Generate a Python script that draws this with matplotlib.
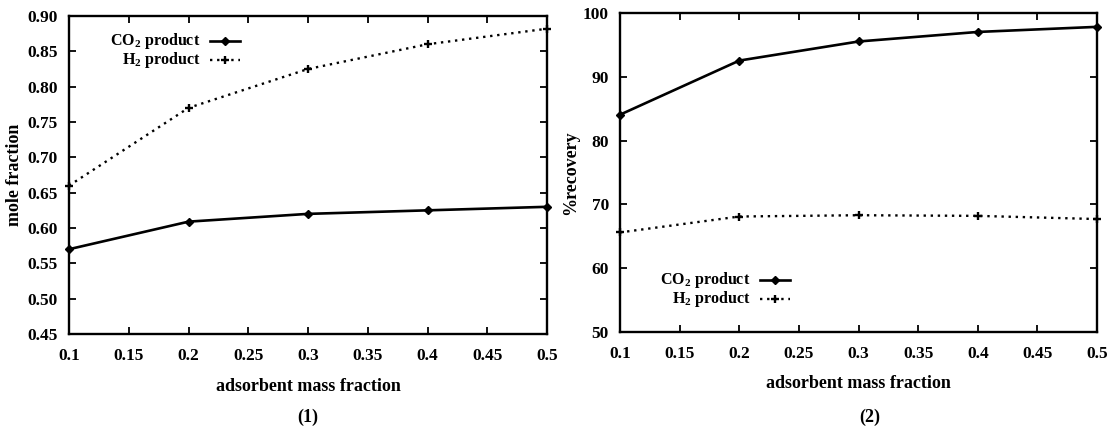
import matplotlib
matplotlib.use("Agg")
import matplotlib.pyplot as plt
from matplotlib.lines import Line2D

# adsorbent mass fraction
mass_fraction = [0.1, 0.2, 0.3, 0.4, 0.5]

# (1) product purity, mole fraction
co2_mole = [0.570, 0.609, 0.620, 0.625, 0.630]
h2_mole = [0.660, 0.770, 0.825, 0.860, 0.882]

# (2) recovery, percent
co2_recovery = [84.1, 92.6, 95.6, 97.1, 97.9]
h2_recovery = [65.6, 68.1, 68.3, 68.2, 67.7]

x_ticks = [0.1, 0.15, 0.2, 0.25, 0.3, 0.35, 0.4, 0.45, 0.5]
x_tick_labels = ["0.1", "0.15", "0.2", "0.25", "0.3", "0.35", "0.4", "0.45", "0.5"]
y1_ticks = [0.45, 0.50, 0.55, 0.60, 0.65, 0.70, 0.75, 0.80, 0.85, 0.90]
y1_tick_labels = ["0.45", "0.50", "0.55", "0.60", "0.65", "0.70", "0.75", "0.80", "0.85", "0.90"]
y2_ticks = [50, 60, 70, 80, 90, 100]
y2_tick_labels = ["50", "60", "70", "80", "90", "100"]

series_names = ["CO$_2$ product", "H$_2$ product"]

plt.rcParams["font.family"] = ["Liberation Serif", "DejaVu Serif"]
plt.rcParams["font.weight"] = "bold"
plt.rcParams["mathtext.fontset"] = "custom"
plt.rcParams["mathtext.rm"] = "Liberation Serif:bold"
plt.rcParams["mathtext.it"] = "Liberation Serif:bold"
plt.rcParams["mathtext.bf"] = "Liberation Serif:bold"

TICK_FS = 12.5
LABEL_FS = 13
KEY_FS = 11.5

fig = plt.figure(figsize=(11.12, 4.38), dpi=100)
ax1 = fig.add_axes([0.0621, 0.2374, 0.4298, 0.7261])
ax2 = fig.add_axes([0.5576, 0.2427, 0.4289, 0.7265])

solid_kw = dict(color="black", lw=1.9, marker="D", ms=4.5, mfc="black", mec="black")
dot_kw = dict(color="black", lw=1.7, ls=(0, (1, 2)), marker="+", ms=6, mew=1.7)


def style_axes(ax, yticks, ylabels, ylim):
    ax.set_xlim(0.1, 0.5)
    ax.set_ylim(*ylim)
    ax.set_xticks(x_ticks)
    ax.set_xticklabels(x_tick_labels)
    ax.set_yticks(yticks)
    ax.set_yticklabels(ylabels)
    ax.tick_params(direction="in", length=5, width=1.3, top=True, right=True,
                   labelsize=TICK_FS)
    ax.tick_params(axis="x", pad=10)
    ax.tick_params(axis="y", pad=8)
    for s in ax.spines.values():
        s.set_linewidth(1.7)
    for lab in ax.get_xticklabels() + ax.get_yticklabels():
        lab.set_fontweight("bold")
    ax.set_xlabel("adsorbent mass fraction", fontsize=LABEL_FS, fontweight="bold",
                  labelpad=10)


def gnuplot_key(ax, text_x, line_x0, line_x1, y_top, dy):
    handles = [(solid_kw, series_names[0]), (dot_kw, series_names[1])]
    for i, (kw, name) in enumerate(handles):
        yy = y_top - i * dy
        ax.text(text_x, yy, name, transform=ax.transAxes, ha="right", va="center",
                fontsize=KEY_FS, fontweight="bold")
        mid = (line_x0 + line_x1) / 2
        ax.add_line(Line2D([line_x0, line_x1], [yy, yy], transform=ax.transAxes,
                           color="black", lw=kw["lw"], ls=kw.get("ls", "-")))
        ax.add_line(Line2D([mid], [yy], transform=ax.transAxes, color="black",
                           marker=kw["marker"], ms=kw["ms"], mew=kw.get("mew", 1),
                           ls="none"))


# (1) mole fraction
ax1.plot(mass_fraction, co2_mole, **solid_kw, clip_on=False, zorder=3)
ax1.plot(mass_fraction, h2_mole, **dot_kw, clip_on=False, zorder=3)
style_axes(ax1, y1_ticks, y1_tick_labels, (0.45, 0.90))
ax1.set_ylabel("mole fraction", fontsize=LABEL_FS, fontweight="bold", labelpad=3)
gnuplot_key(ax1, 0.275, 0.295, 0.357, 0.92, 0.059)
fig.text(0.277, 0.048, "(1)", ha="center", va="center", fontsize=13, fontweight="bold")

# (2) recovery
ax2.plot(mass_fraction, co2_recovery, **solid_kw, clip_on=False, zorder=3)
ax2.plot(mass_fraction, h2_recovery, **dot_kw, clip_on=False, zorder=3)
style_axes(ax2, y2_ticks, y2_tick_labels, (50, 100))
ax2.set_ylabel("%recovery", fontsize=LABEL_FS, fontweight="bold", labelpad=3)
gnuplot_key(ax2, 0.274, 0.294, 0.357, 0.162, 0.059)
fig.text(0.782, 0.048, "(2)", ha="center", va="center", fontsize=13, fontweight="bold")

fig.savefig("out.png", dpi=100)
